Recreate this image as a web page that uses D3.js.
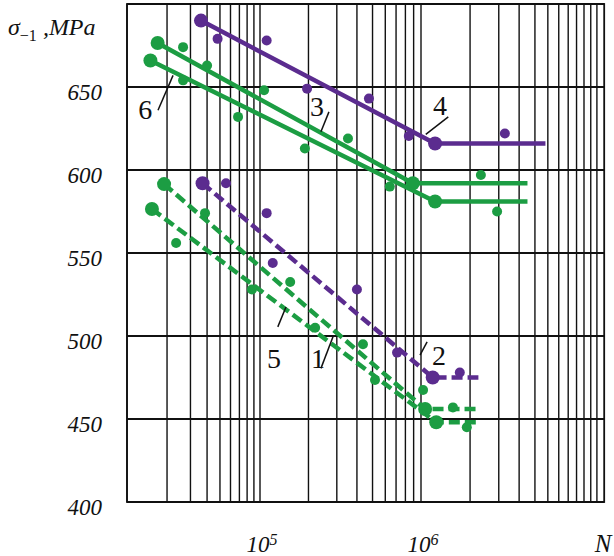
<!DOCTYPE html>
<html>
<head>
<meta charset="utf-8">
<script src="https://cdn.jsdelivr.net/npm/d3@7"></script>
<style>
body{margin:0;background:#fff}
</style>
</head>
<body>
<div id="chart1"></div>
<script>
// axis stuff
var decades = [1e4, 1e5, 1e6, 1e7]
var extraGridN = [1.1e7, 1.2e7]
var xMaxN = 1.33e7
var yTicks = [400, 450, 500, 550, 600, 650, 700]
var yLabels = [400, 450, 500, 550, 600, 650]
var xLabelN = [1e5, 1e6]
var xLabelExp = ["5", "6"]

// solid lines (N, sigma)
var line4N = [3.6e4, 1.22e6, 5.8e6]
var line4S = [690, 616, 616]
var line3N = [1.7e4, 8.9e5, 4.5e6]
var line3S = [676.5, 592, 592]
var line6N = [1.5e4, 1.22e6, 4.5e6]
var line6S = [666, 581, 581]

// dashed lines
var line2N = [3.7e4, 1.18e6, 2.25e6]
var line2S = [592, 475, 475]
var line1N = [1.9e4, 1.06e6, 2.17e6]
var line1S = [591.5, 456, 456]
var line5N = [1.54e4, 1.24e6, 2.24e6]
var line5S = [576.5, 448, 448]

// experimental points
var purpleSolidN = [4.8e4, 1.1e5, 1.96e5, 4.75e5, 8.4e5, 3.27e6]
var purpleSolidS = [679, 678, 649, 643, 620.5, 622]
var greenSolidN = [2.64e4, 4.0e4, 2.64e4, 1.06e5, 6.84e4, 1.9e5, 3.52e5, 6.4e5, 2.33e6, 2.93e6]
var greenSolidS = [674, 663, 654, 648, 632, 613, 619, 590, 597, 575]
var purpleDashN = [5.55e4, 1.1e5, 1.2e5, 4.0e5, 7.1e5, 1.73e6]
var purpleDashS = [592, 574, 544, 528, 490, 478]
var greenDashN = [3.86e4, 2.34e4, 1.54e5, 8.7e4, 2.2e5, 4.36e5, 5.18e5, 1.03e6, 1.57e6, 1.91e6]
var greenDashS = [574, 556, 532.5, 528, 505, 495, 473.5, 467.5, 457, 445]

// curve numbers + leader lines, in data coords
var curveNames = ["6", "3", "4", "5", "1", "2"]
var curveTextN = [1.37e4, 2.26e5, 1.31e6, 1.22e5, 2.29e5, 1.29e6]
var curveTextS = [631, 632.5, 633, 481, 481, 482.5]
var leaderN1 = [1.71e4, 2.39e5, 1.47e6, 1.29e5, 2.39e5, 9.86e5]
var leaderS1 = [636, 623, 632, 505.5, 480.5, 488.5]
var leaderN2 = [2.22e4, 2.68e5, 1.07e6, 1.45e5, 2.84e5, 1.09e6]
var leaderS2 = [657, 635, 621.5, 517.5, 499.5, 496.5]

var purple = "#5b2c8f"
var green = "#1c9d43"
var width = 614
var height = 556

var svg = d3.select("#chart1").append("svg")
	.attr("width", width).attr("height", height)
	.style("font-family", "'Liberation Serif', 'Times New Roman', serif")

// the grid is a bit uneven in the original so each decade gets its own piece
var xScale = d3.scaleLog().domain(decades).range([127, 260, 421, 584])
var yScale = d3.scaleLinear().domain([400, 700]).range([502, 4])

var gridN = []
decades.slice(0, 3).forEach(function(d){
	for (var m = 1; m < 10; m++) gridN.push(m * d)
})
gridN.push(1e7)
gridN = gridN.concat(extraGridN)

var grid = svg.append("g").attr("class", "grid")

grid.selectAll(".vline")
	.data(gridN)
	.enter().append("line")
	.attr("class", "vline")
	.attr("x1", function(d){ return xScale(d) })
	.attr("x2", function(d){ return xScale(d) })
	.attr("y1", yScale(700))
	.attr("y2", yScale(400))
	.attr("stroke", "#111")
	.attr("stroke-width", 1.4)

grid.selectAll(".hline")
	.data(yTicks)
	.enter().append("line")
	.attr("class", "hline")
	.attr("x1", xScale(1e4))
	.attr("x2", xScale(xMaxN))
	.attr("y1", function(d){ return yScale(d) })
	.attr("y2", function(d){ return yScale(d) })
	.attr("stroke", "#111")
	.attr("stroke-width", 1.8)

// frame
grid.append("rect")
	.attr("x", xScale(1e4))
	.attr("y", yScale(700))
	.attr("width", xScale(xMaxN) - xScale(1e4))
	.attr("height", yScale(400) - yScale(700))
	.attr("fill", "none")
	.attr("stroke", "#111")
	.attr("stroke-width", 1.8)

// y labels
svg.selectAll(".ylab")
	.data(yLabels)
	.enter().append("text")
	.attr("class", "ylab")
	.attr("x", 102)
	.attr("y", function(d){ return yScale(d) + 5 })
	.attr("dy", "0.35em")
	.attr("text-anchor", "end")
	.attr("font-style", "italic")
	.attr("font-size", "23px")
	.attr("fill", "#111")
	.text(function(d){ return d })

// x labels 10^5, 10^6
var xl = svg.selectAll(".xlab")
	.data(xLabelN)
	.enter().append("text")
	.attr("class", "xlab")
	.attr("x", function(d){ return xScale(d) + 2 })
	.attr("y", 552)
	.attr("text-anchor", "middle")
	.attr("font-style", "italic")
	.attr("font-size", "23px")
	.attr("fill", "#111")
xl.append("tspan").text("10")
xl.append("tspan")
	.attr("dy", "-0.45em")
	.attr("font-size", "16px")
	.text(function(d, i){ return xLabelExp[i] })

svg.append("text")
	.attr("x", 603)
	.attr("y", 552)
	.attr("text-anchor", "middle")
	.attr("font-style", "italic")
	.attr("font-size", "25px")
	.attr("fill", "#111")
	.text("N")

// y title  sigma_-1 ,MPa
var yt = svg.append("text")
	.attr("x", 8)
	.attr("y", 35)
	.attr("font-style", "italic")
	.attr("font-size", "24px")
	.attr("fill", "#111")
yt.append("tspan").text("σ")
yt.append("tspan").attr("dy", 6).attr("font-size", "16px").attr("font-style", "normal").text("−1")
yt.append("tspan").attr("dy", -6).text(" ,MPa")

var line = d3.line()
	.x(function(d){ return xScale(d[0]) })
	.y(function(d){ return yScale(d[1]) })

function drawCurve(N, S, color, dashed){
	var pts = d3.zip(N, S)
	svg.append("path")
		.datum(pts)
		.attr("d", line)
		.attr("fill", "none")
		.attr("stroke", color)
		.attr("stroke-width", 4.5)
		.attr("stroke-dasharray", dashed ? "11,5" : null)
	// big dots at start and knee
	svg.selectAll(null)
		.data(pts.slice(0, 2))
		.enter().append("circle")
		.attr("cx", function(d){ return xScale(d[0]) })
		.attr("cy", function(d){ return yScale(d[1]) })
		.attr("r", 7)
		.attr("fill", color)
}

function drawPoints(N, S, color){
	svg.selectAll(null)
		.data(d3.zip(N, S))
		.enter().append("circle")
		.attr("cx", function(d){ return xScale(d[0]) })
		.attr("cy", function(d){ return yScale(d[1]) })
		.attr("r", 5)
		.attr("fill", color)
}

drawCurve(line3N, line3S, green, false)
drawCurve(line6N, line6S, green, false)
drawCurve(line4N, line4S, purple, false)
drawCurve(line1N, line1S, green, true)
drawCurve(line5N, line5S, green, true)
drawCurve(line2N, line2S, purple, true)

drawPoints(greenSolidN, greenSolidS, green)
drawPoints(purpleSolidN, purpleSolidS, purple)
drawPoints(greenDashN, greenDashS, green)
drawPoints(purpleDashN, purpleDashS, purple)

// curve numbers
svg.selectAll(".leader")
	.data(curveNames)
	.enter().append("line")
	.attr("class", "leader")
	.attr("x1", function(d, i){ return xScale(leaderN1[i]) })
	.attr("y1", function(d, i){ return yScale(leaderS1[i]) })
	.attr("x2", function(d, i){ return xScale(leaderN2[i]) })
	.attr("y2", function(d, i){ return yScale(leaderS2[i]) })
	.attr("stroke", "#111")
	.attr("stroke-width", 1.5)

svg.selectAll(".cname")
	.data(curveNames)
	.enter().append("text")
	.attr("class", "cname")
	.attr("x", function(d, i){ return xScale(curveTextN[i]) })
	.attr("y", function(d, i){ return yScale(curveTextS[i]) })
	.attr("text-anchor", "middle")
	.attr("font-size", "28px")
	.attr("fill", "#111")
	.text(function(d){ return d })
</script>
</body>
</html>
